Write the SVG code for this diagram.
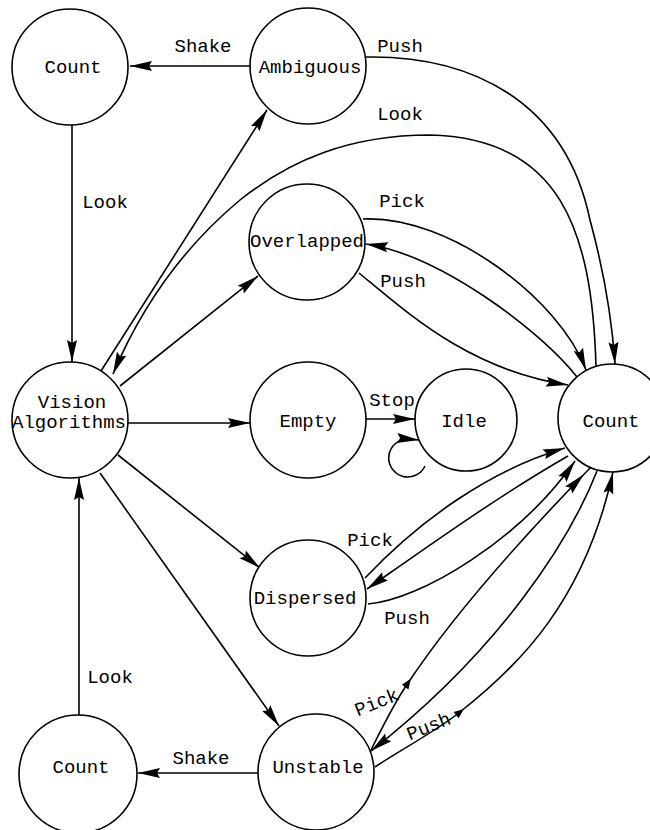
<svg xmlns="http://www.w3.org/2000/svg" width="650" height="830" viewBox="0 0 650 830">
  <style>
    .node { fill: #fff; stroke: #000; stroke-width: 1.6; }
    .edge { fill: none; stroke: #000; stroke-width: 1.6; }
    .txt { font-family: "Liberation Mono", "DejaVu Sans Mono", monospace; font-size: 19px; fill: #000; text-anchor: middle; }
  </style>
  <defs>
    <marker id="arrow" markerUnits="userSpaceOnUse" markerWidth="22" markerHeight="10" refX="22" refY="5" orient="auto" overflow="visible">
      <path d="M0,0 L22,5 L0,10 L3,5 z" fill="#000"/>
    </marker>
    <marker id="arrowBack" markerUnits="userSpaceOnUse" markerWidth="22" markerHeight="10" refX="32" refY="5" orient="auto" overflow="visible">
      <path d="M0,0 L22,5 L0,10 L3,5 z" fill="#000"/>
    </marker>
    <marker id="arrowSmall" markerUnits="userSpaceOnUse" markerWidth="10" markerHeight="8" refX="5" refY="4" orient="auto" overflow="visible">
      <path d="M0,0 L10,4 L0,8 z" fill="#000"/>
    </marker>
  </defs>

  <!-- transitions -->
  <g id="connectors">
    <path class="edge" d="M250,66 L130,66" marker-end="url(#arrow)"/>
    <path class="edge" d="M72,125 L72,362" marker-end="url(#arrow)"/>
    <path class="edge" d="M101,371 L267,110" marker-end="url(#arrow)"/>
    <path class="edge" d="M596,366 C592,230 560,138 430,135 C350,135 290,160 240,200 C180,250 140,310 113,374" marker-end="url(#arrow)"/>
    <path class="edge" d="M120,386 L258,276" marker-end="url(#arrow)"/>
    <path class="edge" d="M128,423 L250,423" marker-end="url(#arrow)"/>
    <path class="edge" d="M118,455 L260,568" marker-end="url(#arrow)"/>
    <path class="edge" d="M100,473 L279,726" marker-end="url(#arrow)"/>
    <path class="edge" d="M79,716 L79,478" marker-end="url(#arrow)"/>
    <path class="edge" d="M258,773 L138,773" marker-end="url(#arrow)"/>
    <path class="edge" d="M365,419 L415,419" marker-end="url(#arrow)"/>
    <path class="edge" d="M425,466 A19,19 0 1 1 408,439 L419,440" marker-end="url(#arrow)"/>
    <path class="edge" d="M365,57 C470,55 565,100 590,220 C605,275 612,320 615,364" marker-end="url(#arrow)"/>
    <path class="edge" d="M363,219 C450,215 560,300 586,370" marker-end="url(#arrow)"/>
    <path class="edge" d="M577,377 C540,330 440,255 366,244" marker-end="url(#arrow)"/>
    <path class="edge" d="M359,273 C410,315 470,370 568,385" marker-end="url(#arrow)"/>
    <path class="edge" d="M365,578 C420,520 490,470 565,448" marker-end="url(#arrow)"/>
    <path class="edge" d="M568,456 C500,495 430,545 367,589" marker-end="url(#arrow)"/>
    <path class="edge" d="M368,604 C420,600 520,540 575,461" marker-end="url(#arrow)"/>
    <path class="edge" d="M370,752 C382,728 394,703 408,683 C450,620 520,540 591,467" marker-mid="url(#arrowSmall)" marker-end="url(#arrowBack)"/>
    <path class="edge" d="M597,471 C570,540 500,650 371,751" marker-end="url(#arrow)"/>
    <path class="edge" d="M375,767 C400,750 435,732 460,712 C520,665 585,600 613,472" marker-mid="url(#arrowSmall)" marker-end="url(#arrow)"/>

    <text class="txt" x="203" y="52">Shake</text>
    <text class="txt" x="400" y="52">Push</text>
    <text class="txt" x="400" y="120">Look</text>
    <text class="txt" x="105" y="208">Look</text>
    <text class="txt" x="402" y="207">Pick</text>
    <text class="txt" x="403" y="287">Push</text>
    <text class="txt" x="392" y="406">Stop</text>
    <text class="txt" x="370" y="546">Pick</text>
    <text class="txt" x="407" y="624">Push</text>
    <text class="txt" x="110" y="683">Look</text>
    <text class="txt" x="201" y="764">Shake</text>
    <text class="txt" transform="translate(379,708) rotate(-22)">Pick</text>
    <text class="txt" transform="translate(431,732) rotate(-22)">Push</text>
  </g>

  <g id="n-count-tl">
    <circle class="node" cx="70" cy="67" r="58"/>
    <text class="txt" x="73" y="73">Count</text>
  </g>
  <g id="n-ambiguous">
    <circle class="node" cx="308" cy="66" r="58"/>
    <text class="txt" x="310" y="73">Ambiguous</text>
  </g>
  <g id="n-overlapped">
    <circle class="node" cx="307" cy="242" r="58"/>
    <text class="txt" x="307" y="247">Overlapped</text>
  </g>
  <g id="n-vision">
    <circle class="node" cx="70" cy="420" r="58"/>
    <text class="txt" x="72" y="408">Vision</text>
    <text class="txt" x="69" y="428">Algorithms</text>
  </g>
  <g id="n-empty">
    <circle class="node" cx="308" cy="420" r="58"/>
    <text class="txt" x="308" y="427">Empty</text>
  </g>
  <g id="n-idle">
    <circle class="node" cx="466" cy="420" r="51"/>
    <text class="txt" x="464" y="427">Idle</text>
  </g>
  <g id="n-count-r">
    <circle class="node" cx="612" cy="418" r="54"/>
    <text class="txt" x="611" y="427">Count</text>
  </g>
  <g id="n-dispersed">
    <circle class="node" cx="308" cy="598" r="58"/>
    <text class="txt" x="305" y="604">Dispersed</text>
  </g>
  <g id="n-unstable">
    <circle class="node" cx="316" cy="772" r="58"/>
    <text class="txt" x="318" y="773">Unstable</text>
  </g>
  <g id="n-count-bl">
    <circle class="node" cx="78" cy="774" r="59"/>
    <text class="txt" x="81" y="773">Count</text>
  </g>
</svg>
